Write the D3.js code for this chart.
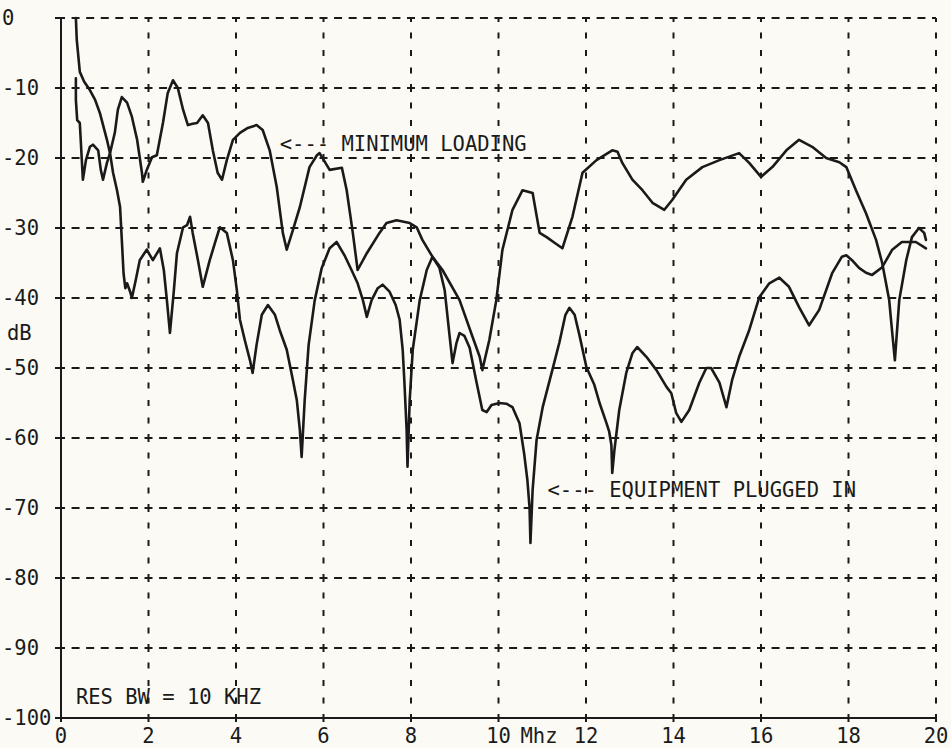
<!DOCTYPE html>
<html>
<head>
<meta charset="utf-8">
<script src="https://cdn.jsdelivr.net/npm/d3@7"></script>
<style>
  html, body { margin: 0; padding: 0; background: #fbfaf4; }
  svg { display: block; }
  text { font-family: "DejaVu Sans Mono", "Liberation Mono", monospace; fill: #1a1a1a; }
</style>
</head>
<body>
<svg id="chart" width="951" height="748"></svg>
<script>
// Frequency axis (MHz) and level axis (dB)
const xTicks = [0, 2, 4, 6, 8, 10, 12, 14, 16, 18, 20];
const yTicks = [0, -10, -20, -30, -40, -50, -60, -70, -80, -90, -100];

// Sweep with minimum loading on the line: [MHz, dB]
const minimumLoading = [
  [0.34, -8.6], [0.34, -11.7], [0.37, -14.6], [0.43, -15.0], [0.50, -23.1], [0.57, -20.3],
  [0.66, -18.4], [0.73, -18.1], [0.85, -18.9], [0.91, -21.7], [0.96, -23.1], [1.05, -20.7],
  [1.12, -19.3], [1.23, -16.4], [1.30, -13.1], [1.39, -11.3], [1.51, -12.1], [1.62, -14.1],
  [1.74, -17.4], [1.85, -22.1], [1.87, -23.4], [1.96, -21.7], [2.08, -19.9], [2.19, -19.6],
  [2.33, -15.0], [2.44, -10.7], [2.56, -8.9], [2.67, -10.0], [2.79, -13.1], [2.90, -15.3],
  [3.01, -15.1], [3.11, -15.0], [3.24, -13.9], [3.36, -15.0], [3.47, -18.9], [3.58, -22.1],
  [3.68, -23.1], [3.79, -20.3], [3.93, -17.4], [4.09, -16.4], [4.27, -15.7], [4.47, -15.3],
  [4.61, -16.0], [4.77, -18.9], [4.93, -24.1], [5.07, -30.7], [5.16, -33.1], [5.30, -30.3],
  [5.46, -27.0], [5.68, -21.3], [5.85, -19.6], [5.91, -19.3], [6.14, -21.7], [6.42, -21.4],
  [6.53, -24.6], [6.67, -30.7], [6.78, -36.0], [6.99, -33.6], [7.28, -30.7], [7.44, -29.3],
  [7.67, -28.9], [7.97, -29.3], [8.13, -29.9], [8.26, -31.7], [8.49, -34.1], [8.72, -36.0],
  [9.11, -40.3], [9.41, -45.6], [9.57, -48.4], [9.63, -50.3], [9.79, -46.0], [9.95, -40.3],
  [10.09, -33.1], [10.32, -27.4], [10.55, -24.6], [10.78, -25.0], [10.94, -30.7], [11.10, -31.3],
  [11.28, -32.1], [11.46, -32.9], [11.69, -28.4], [11.92, -22.1], [12.24, -20.3], [12.60, -18.9],
  [12.72, -19.1], [12.83, -20.7], [13.06, -23.1], [13.29, -24.6], [13.52, -26.4], [13.79, -27.4],
  [13.97, -26.0], [14.29, -23.1], [14.66, -21.3], [15.05, -20.3], [15.50, -19.3], [15.73, -20.7],
  [16.00, -22.7], [16.26, -21.3], [16.58, -18.9], [16.87, -17.4], [17.17, -18.4], [17.49, -20.0],
  [17.79, -20.6], [17.95, -21.3], [18.17, -24.6], [18.40, -27.9], [18.63, -31.7], [18.77, -35.0],
  [18.93, -40.3], [19.00, -45.0], [19.06, -48.9], [19.16, -40.3], [19.32, -34.6], [19.45, -31.3],
  [19.61, -30.0], [19.73, -30.7], [19.77, -31.7]
];

// Sweep with equipment plugged in: [MHz, dB]
const equipmentPluggedIn = [
  [0.34, 0.0], [0.36, -3.1], [0.43, -7.7], [0.53, -9.1], [0.66, -10.3], [0.78, -11.7],
  [0.89, -13.6], [1.05, -17.4], [1.12, -19.3], [1.19, -22.1], [1.28, -24.6], [1.35, -27.0],
  [1.39, -31.7], [1.43, -36.5], [1.47, -38.6], [1.51, -37.9], [1.58, -39.1], [1.62, -40.0],
  [1.71, -37.4], [1.80, -34.6], [1.96, -33.1], [2.10, -34.6], [2.26, -32.9], [2.35, -36.0],
  [2.42, -40.3], [2.49, -45.0], [2.58, -38.9], [2.65, -33.6], [2.79, -29.9], [2.88, -29.6],
  [2.95, -28.4], [3.01, -30.7], [3.13, -34.6], [3.24, -38.4], [3.40, -34.6], [3.54, -31.7],
  [3.63, -29.9], [3.79, -30.7], [3.93, -34.6], [4.02, -38.9], [4.09, -43.1], [4.20, -46.0],
  [4.32, -48.9], [4.38, -50.7], [4.47, -46.7], [4.59, -42.4], [4.73, -41.0], [4.89, -42.4],
  [5.00, -44.6], [5.16, -47.4], [5.30, -51.7], [5.39, -54.6], [5.46, -58.9], [5.50, -62.7],
  [5.57, -54.6], [5.66, -46.7], [5.80, -40.3], [5.96, -35.7], [6.14, -32.9], [6.30, -32.0],
  [6.48, -33.9], [6.64, -36.0], [6.78, -37.9], [6.90, -40.3], [6.99, -42.7], [7.10, -40.3],
  [7.24, -38.6], [7.35, -38.1], [7.51, -39.1], [7.65, -41.0], [7.74, -43.1], [7.81, -47.4],
  [7.85, -52.1], [7.90, -58.9], [7.92, -64.1], [7.97, -54.6], [8.04, -47.4], [8.20, -40.3],
  [8.36, -36.0], [8.49, -34.1], [8.65, -35.7], [8.77, -38.9], [8.88, -45.3], [8.95, -49.3],
  [9.04, -46.4], [9.11, -45.0], [9.22, -45.4], [9.34, -47.1], [9.50, -52.1], [9.63, -56.0],
  [9.73, -56.3], [9.84, -55.3], [10.02, -55.0], [10.18, -55.1], [10.32, -55.6], [10.48, -57.9],
  [10.59, -62.4], [10.66, -66.0], [10.71, -70.0], [10.73, -75.0], [10.78, -67.4], [10.87, -60.3],
  [11.01, -55.6], [11.23, -50.3], [11.39, -46.4], [11.53, -42.4], [11.62, -41.4], [11.74, -42.4],
  [11.85, -45.3], [12.01, -49.9], [12.19, -52.4], [12.31, -55.0], [12.47, -57.9], [12.53, -59.1],
  [12.58, -61.0], [12.60, -65.0], [12.65, -61.7], [12.76, -56.0], [12.92, -50.7], [13.06, -47.9],
  [13.17, -47.0], [13.38, -48.4], [13.61, -50.3], [13.84, -52.7], [13.95, -53.6], [14.06, -56.4],
  [14.18, -57.7], [14.36, -56.0], [14.59, -52.1], [14.75, -50.0], [14.86, -50.0], [15.05, -52.1],
  [15.21, -55.6], [15.34, -51.7], [15.50, -48.4], [15.73, -44.6], [15.96, -39.9], [16.19, -37.9],
  [16.42, -37.1], [16.64, -38.4], [16.87, -41.3], [17.10, -43.9], [17.33, -41.7], [17.63, -36.4],
  [17.85, -34.1], [17.95, -33.9], [18.08, -34.6], [18.24, -35.7], [18.40, -36.4], [18.54, -36.7],
  [18.77, -35.6], [19.00, -33.1], [19.22, -32.0], [19.54, -32.0], [19.77, -32.9]
];

// Annotations placed in data space: [MHz, dB, text]
const annotations = [
  [5.0, -17.9, "<--- MINIMUM LOADING"],
  [11.12, -67.4, "<--- EQUIPMENT PLUGGED IN"],
  [0.34, -97.0, "RES BW = 10 KHZ"]
];

const ink = "#1a1a1a";
const fontSize = 20.5;
const svg = d3.select("#chart");
const x = d3.scaleLinear().domain([0, 20]).range([61, 936]);
const y = d3.scaleLinear().domain([-100, 0]).range([718, 18]);

const grid = svg.append("g").attr("stroke", ink).attr("stroke-width", 2).attr("fill", "none");

// Dashed horizontal grid: five dashes between neighbouring frequency lines
yTicks.filter(v => v > -100).forEach(v => {
  for (let i = 0; i < xTicks.length - 1; i++) {
    const a = x(xTicks[i]), b = x(xTicks[i + 1]);
    for (let k = 1; k <= 5; k++) {
      const c = a + (b - a) * k / 6;
      grid.append("line").attr("x1", c - 4).attr("x2", c + 4).attr("y1", y(v)).attr("y2", y(v));
    }
  }
});

// Dashed vertical grid: three dashes between neighbouring level lines
xTicks.filter(v => v > 0).forEach(v => {
  for (let j = 0; j < yTicks.length - 1; j++) {
    const a = y(yTicks[j]), b = y(yTicks[j + 1]);
    for (let k = 1; k <= 3; k++) {
      const c = a + (b - a) * k / 4;
      grid.append("line").attr("x1", x(v)).attr("x2", x(v)).attr("y1", c - 3).attr("y2", c + 3);
    }
  }
});

// Plus marks where grid lines meet
xTicks.forEach(xv => {
  yTicks.forEach(yv => {
    const cx = x(xv), cy = y(yv);
    const left = xv === 0 ? 6 : 4;
    const right = xv === 20 ? 0 : 4;
    grid.append("line").attr("x1", cx - left).attr("x2", cx + right).attr("y1", cy).attr("y2", cy);
    const up = yv === 0 ? 0 : 4;
    grid.append("line").attr("x1", cx).attr("x2", cx).attr("y1", cy - up).attr("y2", cy + 4);
  });
});

// Solid left and bottom axes
grid.append("line").attr("x1", x(0)).attr("x2", x(0)).attr("y1", y(0)).attr("y2", y(-100));
grid.append("line").attr("x1", x(0)).attr("x2", x(20)).attr("y1", y(-100)).attr("y2", y(-100));

// Level labels
svg.append("g").selectAll("text").data(yTicks).join("text")
  .attr("x", 2)
  .attr("y", d => y(d))
  .attr("dy", "0.36em")
  .attr("font-size", fontSize)
  .text(d => String(d));

svg.append("text").attr("x", 7).attr("y", y(-45)).attr("dy", "0.36em")
  .attr("font-size", fontSize).text("dB");

// Frequency labels
svg.append("g").selectAll("text").data(xTicks).join("text")
  .attr("x", d => x(d))
  .attr("y", 743)
  .attr("text-anchor", "middle")
  .attr("font-size", fontSize)
  .text(d => String(d));

svg.append("text").attr("x", x(10) + 22).attr("y", 743)
  .attr("font-size", fontSize).text("Mhz");

// Traces
const line = d3.line().x(d => x(d[0])).y(d => y(d[1]));
[minimumLoading, equipmentPluggedIn].forEach(series => {
  svg.append("path")
    .datum(series)
    .attr("d", line)
    .attr("fill", "none")
    .attr("stroke", ink)
    .attr("stroke-width", 2.6)
    .attr("stroke-linejoin", "round")
    .attr("stroke-linecap", "round");
});

// Annotations
svg.append("g").selectAll("text").data(annotations).join("text")
  .attr("x", d => x(d[0]))
  .attr("y", d => y(d[1]))
  .attr("dy", "0.36em")
  .attr("font-size", fontSize)
  .attr("xml:space", "preserve")
  .style("white-space", "pre")
  .text(d => d[2]);
</script>
</body>
</html>
